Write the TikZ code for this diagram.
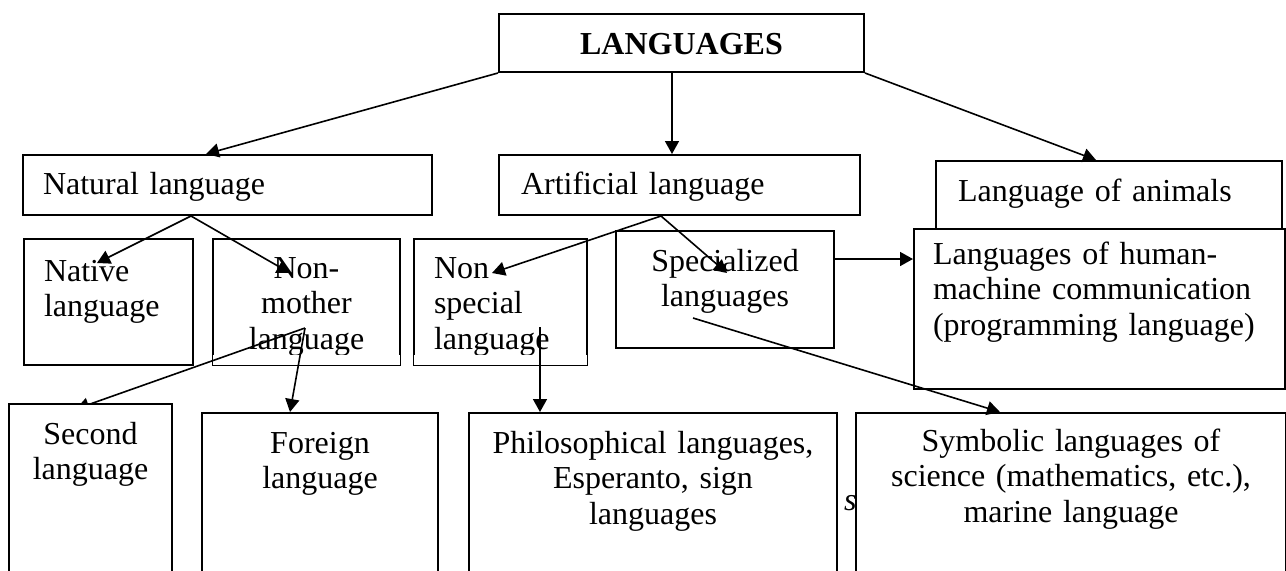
\documentclass[tikz,border=0pt]{standalone}
\usepackage{fontspec}
\setmainfont{Liberation Serif}
\usetikzlibrary{arrows.meta,calc,positioning}

\newcommand{\boxfont}{\fontsize{16}{17.75}\selectfont}

\tikzset{
  box/.style={draw, line width=1pt, fill=white, anchor=north west, inner ysep=0pt, font=\boxfont},
  lbox/.style={box, align=left, inner xsep=10pt},
  cbox/.style={box, align=center, inner xsep=5pt},
  arr/.style={-{Triangle[length=6.5pt,width=7pt]}, line width=0.8pt},
}

\begin{document}
\begin{tikzpicture}[x=0.5pt, y=-0.5pt]
  \useasboundingbox (0,0) rectangle (1286,570);
  \clip (0,0) rectangle (1286,570);

  \node[anchor=base west, font=\boxfont\itshape] (tail) at (837,510) {s.};

  % upper levels
  \node[cbox, text width=172.5pt, text height=20pt, text depth=9pt, font=\boxfont\bfseries] (lang) at (498,13) {LANGUAGES};
  \node[lbox, text width=184.5pt, text height=19.5pt, text depth=10.5pt] (natural) at (22,154) {Natural language};
  \node[lbox, inner xsep=11pt, text width=158.5pt, text height=19.5pt, text depth=10.5pt] (artificial) at (498,154) {Artificial language};
  \node[lbox, inner xsep=11pt, text width=151pt, text height=20pt, text depth=14pt] (animals) at (935,160) {Language of animals};

  % middle level
  \node[lbox, text width=64.5pt, text height=21pt, text depth=42pt] (native) at (23,238) {Native\\language};
  \node[cbox, text width=83.5pt, text height=19.5pt, text depth=43.5pt] (nonmother) at (212,238) {Non-\\mother\\language};
  \node[lbox, text width=66.5pt, text height=19.5pt, text depth=43.5pt] (nonspecial) at (413,238) {Non\\special\\language};
  \node[cbox, text width=99pt, text height=20pt, text depth=38.5pt] (special) at (615,230) {Specialized\\languages};
  \node[lbox, inner xsep=9.5pt, text width=166.5pt, text height=17.5pt, text depth=62.5pt] (human) at (913,228) {Languages of human-\\machine communication\\(programming language)};

  % text cut at the bottom
  \fill[white] ($(nonmother.south west)+(1,-11)$) rectangle ($(nonmother.south east)+(-1,-1)$);
  \fill[white] ($(nonspecial.south west)+(1,-11)$) rectangle ($(nonspecial.south east)+(-1,-1)$);

  \coordinate (secTip) at (76,409);
  \draw[arr] ($(nonmother.north west)+(93,90)$) -- (secTip); % under the box

  % lower level
  \node[cbox, text width=71.5pt, text height=20pt, text depth=80pt] (second) at (8,403) {Second\\language};
  \node[cbox, text width=108pt, text height=20pt, text depth=80pt] (foreign) at (201,412) {Foreign\\language};
  \node[cbox, text width=174pt, text height=20pt, text depth=80pt] (philo) at (468,412) {Philosophical languages,\\Esperanto, sign\\languages};
  \node[cbox, text width=205pt, text height=19pt, text depth=81pt] (symbolic) at (855,412) {Symbolic languages of\\science (mathematics, etc.),\\marine language};

  \draw[arr] (lang.south west) -- ($(natural.north west)+(184,0)$);
  \draw[arr] ($(lang.south west)+(174,0)$) -- ($(artificial.north west)+(174,0)$);
  \draw[arr] (lang.south east) -- ($(animals.north west)+(161,0)$);
  \draw[arr] ($(natural.south west)+(169,0)$) -- ($(native.north west)+(74,25)$);
  \draw[arr] ($(natural.south west)+(169,0)$) -- ($(nonmother.north west)+(78,35)$);
  \draw[arr] ($(artificial.south west)+(163,0)$) -- ($(nonspecial.north west)+(79,35)$);
  \draw[arr] ($(artificial.south west)+(163,0)$) -- ($(special.north west)+(112,43)$);
  \draw[arr] ($(special.north east)+(0,29)$) -- ($(human.north west)+(0,31)$);
  \draw[arr] ($(special.north west)+(78,88)$) -- ($(symbolic.north west)+(145,0)$);
  \draw[arr] ($(nonmother.north west)+(93,90)$) -- ($(foreign.north west)+(89,0)$);
  \draw[arr] ($(nonspecial.north west)+(127,89)$) -- ($(philo.north west)+(72,0)$);
\end{tikzpicture}
\end{document}
